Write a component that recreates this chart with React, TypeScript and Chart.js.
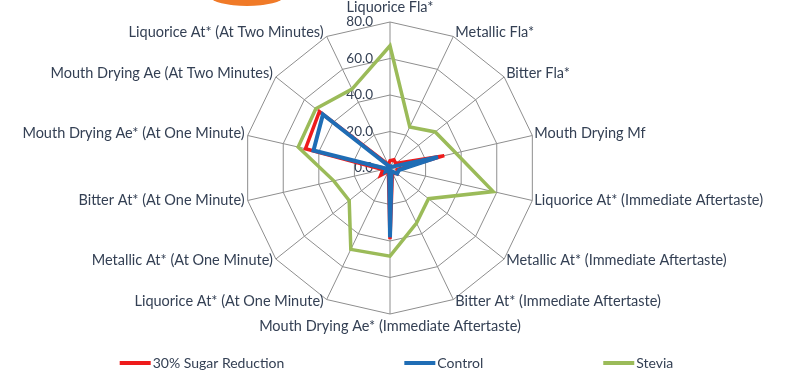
import React, { useEffect, useRef } from 'react';
import { Chart, registerables } from 'chart.js';

Chart.register(...registerables);

const CATEGORIES = [
  'Liquorice Fla*',
  'Metallic Fla*',
  'Bitter Fla*',
  'Mouth Drying Mf',
  'Liquorice At* (Immediate Aftertaste)',
  'Metallic At* (Immediate Aftertaste)',
  'Bitter At* (Immediate Aftertaste)',
  'Mouth Drying Ae* (Immediate Aftertaste)',
  'Liquorice At* (At One Minute)',
  'Metallic At* (At One Minute)',
  'Bitter At* (At One Minute)',
  'Mouth Drying Ae* (At One Minute)',
  'Mouth Drying Ae (At Two Minutes)',
  'Liquorice At* (At Two Minutes)',
];

const SUGAR_REDUCTION = [4, 5, 4, 30.5, 4, 5, 3, 39, 2, 6.5, 4, 47.5, 49.5, 2];
const CONTROL = [1, 1, 1, 27, 5, 5, 2, 38, 1, 3, 2, 43, 47, 1];
const STEVIA = [67, 25, 31.7, 37, 58, 27, 33.5, 48.3, 49.5, 28.6, 31.6, 51.6, 52, 48];

const SERIES_NAMES = ['30% Sugar Reduction', 'Control', 'Stevia'];
const SERIES_COLORS = ['#ee1b1b', '#1f6db5', '#9bbb59'];

const TICK_VALUES = [0, 20, 40, 60, 80];
const TICK_LABELS = ['0.0', '20.0', '40.0', '60.0', '80.0'];

const FONT = 'Lato, "Open Sans", sans-serif';
const TEXT_COLOR = '#344054';
const GRID_COLOR = '#8e8e8e';

const decorPlugin = {
  id: 'decor',
  beforeDatasetsDraw(chart: any) {
    const s = chart.scales.r;
    const ctx = chart.ctx;
    ctx.save();
    ctx.font = `13.5px ${FONT}`;
    ctx.fillStyle = TEXT_COLOR;
    ctx.textAlign = 'right';
    ctx.textBaseline = 'middle';
    TICK_VALUES.forEach((v, i) => {
      const y = s.yCenter - s.getDistanceFromCenterForValue(v);
      ctx.fillText(TICK_LABELS[i], s.xCenter - 17, y);
    });
    ctx.restore();
  },
  afterDraw(chart: any) {
    const s = chart.scales.r;
    const ctx = chart.ctx;
    const labels: string[] = chart.data.labels;
    const n = labels.length;
    ctx.save();
    // point labels
    ctx.font = `14.5px ${FONT}`;
    ctx.fillStyle = TEXT_COLOR;
    ctx.textBaseline = 'middle';
    labels.forEach((lab, i) => {
      const p = s.getPointPosition(i, s.drawingArea);
      const theta = (i * 2 * Math.PI) / n;
      const deg = Math.round((theta * 180) / Math.PI);
      let x = p.x;
      let y = p.y;
      if (deg === 0) {
        ctx.textAlign = 'center';
        y = p.y - 14.5;
      } else if (deg === 180) {
        ctx.textAlign = 'center';
        y = p.y + 12.5;
      } else if (deg < 180) {
        ctx.textAlign = 'left';
        x = p.x + 2;
        y = p.y - 3.5 * Math.cos(theta) - 1;
      } else {
        ctx.textAlign = 'right';
        x = p.x - 3;
        y = p.y - 3.5 * Math.cos(theta) - 1;
      }
      ctx.fillText(lab, x, y);
    });

    // legend
    const datasets = chart.data.datasets;
    ctx.font = `14px ${FONT}`;
    ctx.textAlign = 'left';
    const sample = 31;
    const gapText = 2;
    const gap = 120;
    const widths = datasets.map((d: any) => sample + gapText + ctx.measureText(d.label).width);
    const total = widths.reduce((a: number, b: number) => a + b, 0) + gap * (datasets.length - 1);
    let lx = 396.5 - total / 2;
    const ly = 363;
    datasets.forEach((d: any, i: number) => {
      ctx.strokeStyle = d.borderColor;
      ctx.lineWidth = 4;
      ctx.beginPath();
      ctx.moveTo(lx, ly);
      ctx.lineTo(lx + sample, ly);
      ctx.stroke();
      ctx.fillStyle = TEXT_COLOR;
      ctx.fillText(d.label, lx + sample + gapText, ly);
      lx += widths[i] + gap;
    });

    // orange decoration at the top edge
    ctx.fillStyle = '#f07a28';
    ctx.beginPath();
    ctx.ellipse(247, -3, 36, 9, 0, 0, Math.PI * 2);
    ctx.fill();
    ctx.restore();
  },
};

export default function App() {
  const ref = useRef<HTMLCanvasElement>(null);
  useEffect(() => {
    if (!ref.current) return;
    const series = [SUGAR_REDUCTION, CONTROL, STEVIA];
    const widths = [3.5, 4, 3.5];
    const orders = [1, 0, 2];
    const chart = new Chart(ref.current, {
      type: 'radar',
      data: {
        labels: CATEGORIES,
        datasets: series.map((data, i) => ({
          label: SERIES_NAMES[i],
          data,
          borderColor: SERIES_COLORS[i],
          backgroundColor: SERIES_COLORS[i],
          borderWidth: widths[i],
          fill: false,
          pointRadius: 0,
          pointHoverRadius: 0,
          tension: 0,
          order: orders[i],
          borderJoinStyle: 'miter' as const,
        })),
      },
      options: {
        responsive: false,
        animation: false,
        events: [],
        layout: { padding: { top: 22, bottom: 57, left: 0, right: 15 } },
        plugins: {
          legend: { display: false },
          tooltip: { enabled: false },
        },
        scales: {
          r: {
            min: 0,
            max: 80,
            ticks: { display: false, stepSize: 20 },
            pointLabels: { display: false },
            grid: { color: GRID_COLOR, lineWidth: 1, circular: false },
            angleLines: { color: GRID_COLOR, lineWidth: 1 },
          },
        },
      },
      plugins: [decorPlugin],
    });
    return () => chart.destroy();
  }, []);
  return (
    <div style={{ position: 'fixed', left: 0, top: 0, width: 795, height: 372, background: '#fff' }}>
      <canvas ref={ref} width={795} height={372} />
    </div>
  );
}
